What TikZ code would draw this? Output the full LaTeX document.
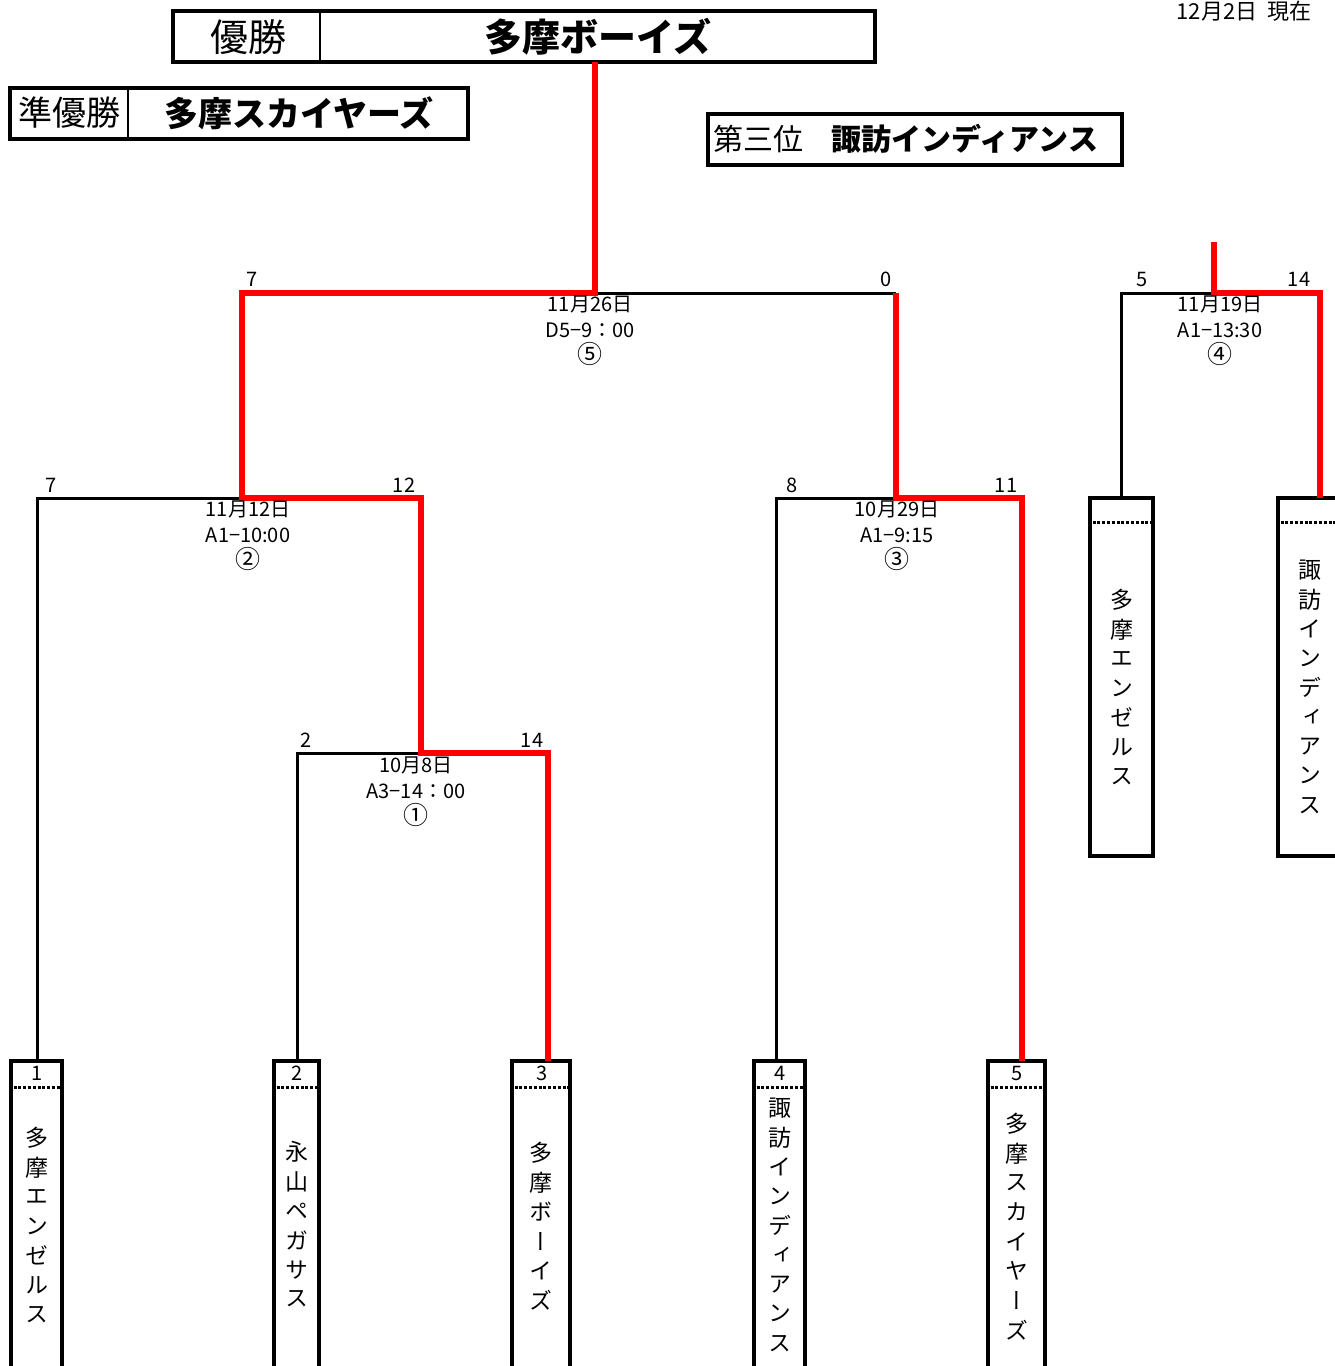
\documentclass[tikz,border=0pt]{standalone}
\usepackage{fontspec}
\setmainfont{Noto Sans CJK JP}
\newfontfamily\vjp[RawFeature={+vert}]{Noto Sans CJK JP}
\usetikzlibrary{calc}
\newcommand\vname[4]{%
  \foreach \ch [count=\i from 0] in {#4} {
    \node[vchar] (#1-\i) at (#2, #3+29.4*\i) {\ch};
  }%
}
\newcommand\circnum[1]{{\fontsize{25}{26}\selectfont #1}}
\begin{document}
\begin{tikzpicture}[x=1pt,y=-1pt,
  lbl/.style={inner sep=0pt, font=\fontsize{20}{26}\selectfont},
  matchlbl/.style={lbl, align=center},
  bk/.style={line width=3pt, black},
  rd/.style={line width=6pt, red},
  teambox/.style={draw, line width=3.5pt, inner sep=0pt, outer sep=0pt, anchor=north},
  titlebox/.style={draw, line width=4.5pt, inner sep=0pt, outer sep=0pt},
  dotline/.style={line width=3pt, dash pattern=on 3pt off 1.8pt, shorten <=2.5pt, shorten >=2.5pt},
  vchar/.style={inner sep=0pt, font=\vjp\fontsize{23}{23}\selectfont},
  head/.style={inner sep=0pt}
]
\useasboundingbox (0,0) rectangle (1335,1366);

% date
\node[head, font=\fontsize{22}{22}\selectfont, anchor=north] (date) at (1244,1) {12月2日\ \ 現在};

% title boxes
\node[titlebox, minimum width=702pt, minimum height=51pt] (champ) at (524,36.5) {};
\draw[line width=1.5pt] (320,11) -- (320,62);
\node[head, font=\fontsize{38}{38}\selectfont] (champlbl) at (248,37) {優勝};
\node[head, font=\fontsize{38}{38}\selectfont\bfseries] (champname) at (598,37) {多摩ボーイズ};

\node[titlebox, minimum width=458pt, minimum height=51pt] (runner) at (239,113.5) {};
\draw[line width=1.5pt] (128,88) -- (128,139);
\node[head, font=\fontsize{34}{34}\selectfont] (runnerlbl) at (70,113) {準優勝};
\node[head, font=\fontsize{34}{34}\selectfont\bfseries] (runnername) at (299,113) {多摩スカイヤーズ};

\node[titlebox, minimum width=414pt, minimum height=51pt] (third) at (915,139.5) {};
\node[head, font=\fontsize{30}{30}\selectfont] (thirdlbl) at (758,139) {第三位};
\node[head, font=\fontsize{30}{30}\selectfont\bfseries] (thirdname) at (965,139) {諏訪インディアンス};

% team boxes
\node[teambox, minimum width=51pt, minimum height=420pt] (t1) at (36.5,1061) {};
\node[teambox, minimum width=45pt, minimum height=420pt] (t2) at (296.5,1061) {};
\node[teambox, minimum width=58pt, minimum height=420pt] (t3) at (541,1061) {};
\node[teambox, minimum width=51pt, minimum height=420pt] (t4) at (779.5,1061) {};
\node[teambox, minimum width=57pt, minimum height=420pt] (t5) at (1016.5,1061) {};
\node[teambox, minimum width=63pt, minimum height=358pt] (tA) at (1121.5,498) {};
\node[teambox, minimum width=63pt, minimum height=358pt] (tB) at (1309.5,498) {};

\foreach \t in {t1,t2,t3,t4,t5} {
  \draw[dotline] ([yshift=-26pt]\t.north west) -- ([yshift=-26pt]\t.north east);
}
\foreach \t in {tA,tB} {
  \draw[dotline] ([yshift=-24pt]\t.north west) -- ([yshift=-24pt]\t.north east);
}
\node[lbl] (t1num) at (37,1073) {1};
\node[lbl] (t2num) at (297,1073) {2};
\node[lbl] (t3num) at (542,1073) {3};
\node[lbl] (t4num) at (780,1073) {4};
\node[lbl] (t5num) at (1017,1073) {5};

\vname{t1n}{37}{1138}{多,摩,エ,ン,ゼ,ル,ス}
\vname{t2n}{297}{1152}{永,山,ペ,ガ,サ,ス}
\vname{t3n}{541}{1153}{多,摩,ボ,ー,イ,ズ}
\vname{t4n}{780}{1108}{諏,訪,イ,ン,デ,ィ,ア,ン,ス}
\vname{t5n}{1017}{1124}{多,摩,ス,カ,イ,ヤ,ー,ズ}
\vname{tAn}{1122}{600}{多,摩,エ,ン,ゼ,ル,ス}
\vname{tBn}{1310}{570}{諏,訪,イ,ン,デ,ィ,ア,ン,ス}

% bracket coordinates
\coordinate (m5) at (595,293);
\coordinate (m5L) at (242,293);
\coordinate (m5R) at (896,293);
\coordinate (m2) at (242,498);
\coordinate (m2L) at (37,498);
\coordinate (m2R) at (421,498);
\coordinate (m1) at (421,753);
\coordinate (m1L) at (297,753);
\coordinate (m1R) at (548,753);
\coordinate (m3) at (896,498);
\coordinate (m3L) at (776,498);
\coordinate (m3R) at (1022,498);
\coordinate (m4) at (1214,293);
\coordinate (m4L) at (1121,293);
\coordinate (m4R) at (1320,293);
\coordinate (m4top) at (1214,242);

% black lines
\draw[bk] (t1.north -| m2L) -- (m2L) -- (m2);
\draw[bk] (t2.north -| m1L) -- (m1L) -- (m1);
\draw[bk] (t4.north -| m3L) -- (m3L) -- (m3);
\draw[bk] (m5) -- (m5R);
\draw[bk] (tA.north -| m4L) -- (m4L) -- (m4);

% red lines
\draw[rd] (champ.south -| m5) -- (m5) -- (m5L) -- (m2) -- (m2R) -- (m1) -- (m1R) -- (t3.north -| m1R);
\draw[rd] (t5.north -| m3R) -- (m3R) -- (m3) -- (m5R);
\draw[rd] (m4top) -- (m4) -- (m4R) -- (tB.north -| m4R);

% scores
\node[lbl] (s5l) at (252,279) {7};
\node[lbl] (s5r) at (886,279) {0};
\node[lbl] (s2l) at (51,485) {7};
\node[lbl] (s2r) at (404,485) {12};
\node[lbl] (s3l) at (792,485) {8};
\node[lbl] (s3r) at (1006,485) {11};
\node[lbl] (s1l) at (306,740) {2};
\node[lbl] (s1r) at (532,740) {14};
\node[lbl] (s4l) at (1142,279) {5};
\node[lbl] (s4r) at (1299,279) {14};

% match labels
\node[matchlbl] (l5) at (590,331) {11月26日\\D5−9：00\\\circnum{⑤}};
\node[matchlbl] (l2) at (248,536) {11月12日\\A1−10:00\\\circnum{②}};
\node[matchlbl] (l1) at (416,792) {10月8日\\A3−14：00\\\circnum{①}};
\node[matchlbl] (l3) at (897,536) {10月29日\\A1−9:15\\\circnum{③}};
\node[matchlbl] (l4) at (1220,331) {11月19日\\A1−13:30\\\circnum{④}};
\end{tikzpicture}
\end{document}
